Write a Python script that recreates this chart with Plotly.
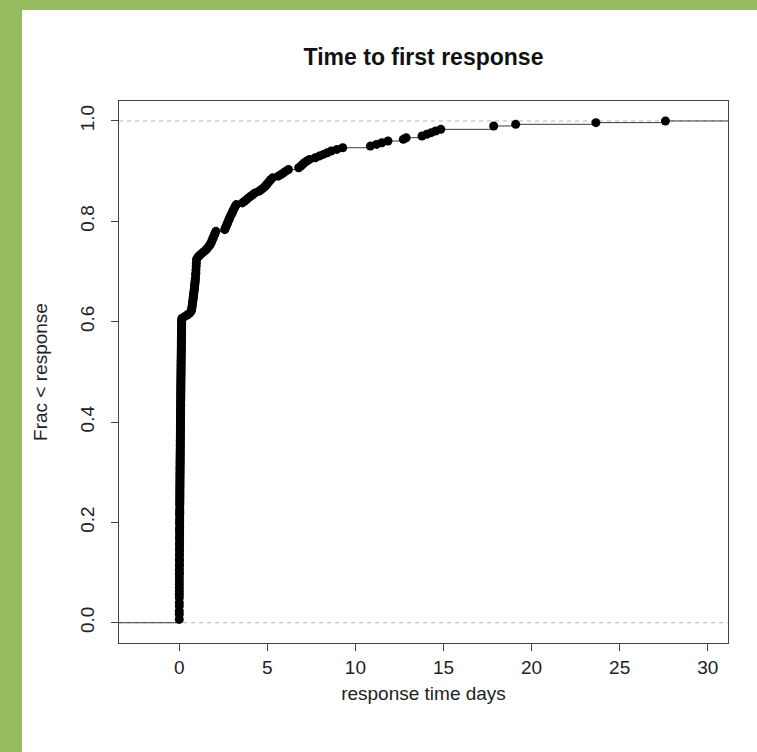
import numpy as np
import plotly.graph_objects as go

# Responses that arrived within the first few hours, in minutes
quick_minutes = [
    1, 1, 2, 2, 2, 3, 3, 4, 4, 4, 5, 5, 6, 6, 6, 7, 7, 8, 8, 9,
    9, 10, 10, 11, 11, 12, 12, 13, 13, 14, 15, 15, 16, 16, 17, 18, 18, 19, 20, 20,
    21, 22, 22, 23, 24, 24, 25, 26, 27, 27, 28, 29, 30, 30, 31, 32, 33, 34, 34, 35,
    36, 37, 38, 38, 39, 40, 41, 42, 43, 43, 44, 45, 46, 47, 48, 49, 50, 51, 52, 53,
    54, 55, 56, 57, 58, 59, 60, 61, 62, 63, 64, 66, 67, 68, 69, 70, 72, 73, 74, 75,
    76, 78, 79, 80, 81, 83, 84, 85, 86, 88, 89, 90, 92, 93, 94, 96, 97, 98, 100, 101,
    102, 104, 105, 106, 108, 109, 110, 112, 113, 115, 116, 117, 119, 120, 122, 123, 125, 126, 128, 129,
    131, 132, 134, 135, 137, 138, 140, 141, 143, 144, 146, 147, 149, 150, 152, 153, 155, 156, 158, 160,
    161, 163, 165, 166, 168, 170, 171, 173, 175, 177, 178, 180, 182, 184, 186, 188, 190, 192, 194, 196,
    198,
]

# Slower responses, in days
slow_days = [
    0.15, 0.30, 0.45, 0.58, 0.66,
    0.70, 0.71, 0.73, 0.74, 0.75, 0.76, 0.78, 0.79, 0.80, 0.81,
    0.82, 0.84, 0.85, 0.86, 0.87, 0.88, 0.89, 0.90, 0.91, 0.92,
    0.93, 0.93, 0.94, 0.95, 0.95, 0.96, 0.96, 0.97, 0.97, 0.98, 0.98,
    1.02, 1.10, 1.19, 1.30, 1.42,
    1.52, 1.60, 1.68, 1.75, 1.80, 1.84, 1.88, 1.92, 1.96, 2.00, 2.04, 2.08,
    2.58, 2.62, 2.66, 2.70, 2.74, 2.78, 2.82, 2.86, 2.90, 2.95, 3.00, 3.04, 3.08, 3.13, 3.18, 3.24,
    3.58, 3.70, 3.82, 3.93, 4.05, 4.18, 4.30,
    4.52, 4.66, 4.78, 4.88, 4.97, 5.04, 5.12, 5.20, 5.30,
    5.62, 5.78, 5.92, 6.05, 6.20,
    6.78, 6.90, 7.00, 7.10, 7.24, 7.40,
    7.72, 7.95, 8.18, 8.40,
    8.62, 8.95, 9.28,
    10.85, 11.20, 11.50, 11.85,
    12.72, 12.88,
    13.78, 14.05, 14.30, 14.55, 14.85,
    17.85, 17.85,
    19.10, 23.65, 27.60,
]

x_ticks = [0, 5, 10, 15, 20, 25, 30]
y_ticks = [0.0, 0.2, 0.4, 0.6, 0.8, 1.0]
y_tick_text = ["0.0", "0.2", "0.4", "0.6", "0.8", "1.0"]

X_RANGE = [-3.42, 31.15]
Y_RANGE = [-0.0404, 1.0398]

# Empirical CDF
days = np.sort(np.concatenate([np.array(quick_minutes) / 1440.0, np.array(slow_days)]))
n = len(days)
ux, counts = np.unique(days, return_counts=True)
cdf = np.cumsum(counts) / n

# Horizontal step segments (no verticals), extended to the plot edges
seg_x, seg_y = [X_RANGE[0], ux[0], None], [0, 0, None]
for i in range(len(ux)):
    right = ux[i + 1] if i + 1 < len(ux) else X_RANGE[1]
    seg_x += [ux[i], right, None]
    seg_y += [cdf[i], cdf[i], None]

W, H = 757, 752
ML, MR, MT, MB = 119, 29, 101, 109
PW, PH = W - ML - MR, H - MT - MB


def px_x(p):
    return (p - ML) / PW


def px_y(p):
    return (H - MB - p) / PH


FONT = "Liberation Sans, Arial, sans-serif"
GREEN = "#95bd5f"

fig = go.Figure()
fig.add_trace(go.Scatter(x=seg_x, y=seg_y, mode="lines",
                         line=dict(color="#3a3a3a", width=1), hoverinfo="skip"))
fig.add_trace(go.Scatter(x=ux, y=cdf, mode="markers",
                         marker=dict(color="black", size=9, line=dict(width=0))))

shapes = []
for yv in (0, 1):
    shapes.append(dict(type="line", xref="paper", yref="y", x0=0, x1=1, y0=yv, y1=yv,
                       line=dict(color="#b3b3b3", width=1, dash="4px,4px"), layer="below"))
# Green frame along the left and top edges of the page
shapes.append(dict(type="rect", xref="paper", yref="paper",
                   x0=px_x(0), x1=px_x(22), y0=px_y(H), y1=px_y(0),
                   fillcolor=GREEN, line=dict(width=0)))
shapes.append(dict(type="rect", xref="paper", yref="paper",
                   x0=px_x(0), x1=px_x(W), y0=px_y(10), y1=px_y(0),
                   fillcolor=GREEN, line=dict(width=0)))

fig.update_layout(
    width=W, height=H,
    margin=dict(l=ML, r=MR, t=MT, b=MB),
    paper_bgcolor="white", plot_bgcolor="white",
    showlegend=False,
    shapes=shapes,
    font=dict(family=FONT, color="#222222", size=19),
    title=dict(text="<b>Time to first response</b>", xref="paper", x=0.5, xanchor="center",
               y=1 - 57 / H, yanchor="middle", font=dict(size=23, color="#111111")),
    xaxis=dict(range=X_RANGE, tickvals=x_ticks, ticks="outside", ticklen=7,
               tickcolor="#444444", showline=True, linecolor="#444444", mirror=True,
               showgrid=False, zeroline=False, ticklabelstandoff=0,
               title=dict(text="response time days", standoff=9, font=dict(size=19))),
    yaxis=dict(range=Y_RANGE, tickvals=y_ticks, ticktext=y_tick_text, ticks="outside",
               ticklen=7, tickcolor="#444444", showline=True, linecolor="#444444",
               mirror=True, showgrid=False, zeroline=False, tickangle=-90,
               ticklabelstandoff=9,
               title=dict(text="Frac &lt; response", standoff=24, font=dict(size=19))),
)

fig.write_html("out.html")
